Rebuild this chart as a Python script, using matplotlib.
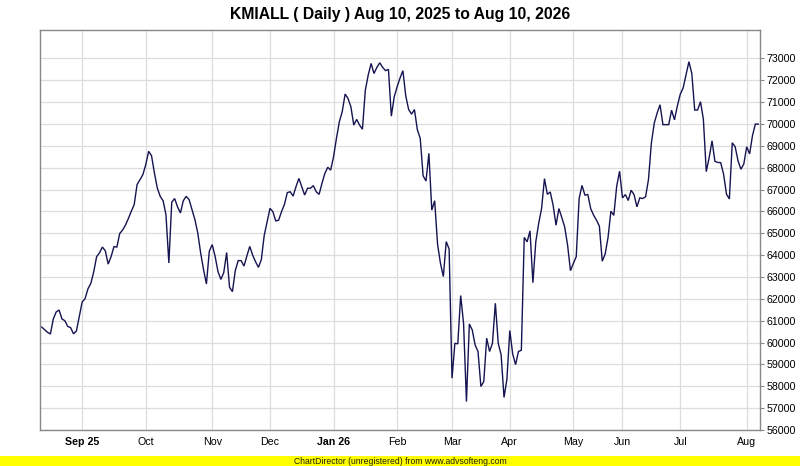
import matplotlib
matplotlib.use("Agg")
import matplotlib.pyplot as plt
import numpy as np

title = "KMIALL ( Daily ) Aug 10, 2025 to Aug 10, 2026"

# closing values, one per trading day
close = [
    60710, 60590, 60470, 60390, 61080, 61400, 61490, 61080, 61000, 60740,
    60680, 60400, 60530, 61200, 61860, 62010, 62460, 62710, 63240, 63930,
    64110, 64370, 64200, 63590, 63930, 64390, 64370, 64990, 65150, 65380,
    65680, 66010, 66310, 67230, 67450, 67680, 68140, 68750, 68550, 67760,
    67070, 66690, 66490, 65850, 63640, 66420, 66590, 66210, 65930, 66490,
    66690, 66540, 66080, 65630, 65020, 64100, 63340, 62680, 64180, 64480,
    63950, 63250, 62890, 63200, 64120, 62530, 62330, 63300, 63750, 63750,
    63500, 63960, 64400, 64000, 63700, 63440, 63790, 64900, 65530, 66140,
    65990, 65560, 65600, 65990, 66320, 66860, 66900, 66700, 67130, 67510,
    67130, 66750, 67060, 67060, 67180, 66900, 66780, 67290, 67740, 68020,
    67890, 68500, 69340, 70100, 70560, 71370, 71170, 70790, 69950, 70210,
    69950, 69760, 71550, 72240, 72770, 72310, 72590, 72800, 72590, 72440,
    72500, 70360, 71240, 71700, 72100, 72440, 71280, 70660, 70450, 70660,
    69740, 69340, 67630, 67390, 68660, 66060, 66490, 64500, 63630, 63020,
    64620, 64280, 58370, 59970, 59940, 62150, 60880, 57300, 60850, 60580,
    59890, 59590, 57990, 58220, 60200, 59590, 59970, 61800, 59970, 59440,
    57490, 58320, 60550, 59480, 58990, 59590, 59650, 64810, 64610, 65110,
    62740, 64610, 65450, 66130, 67500, 66780, 66890, 66280, 65370, 66130,
    65720, 65290, 64460, 63290, 63620, 63930, 66590, 67190, 66740, 66780,
    66130, 65830, 65600, 65330, 63720, 64050, 64800, 66010, 65820, 67150,
    67840, 66620, 66770, 66500, 66970, 66770, 66210, 66620, 66590, 66670,
    67460, 69130, 70040, 70500, 70880, 69970, 69970, 69970, 70630, 70190,
    70830, 71360, 71650, 72250, 72850, 72310, 70640, 70640, 71020, 70220,
    67820, 68460, 69230, 68290, 68240, 68230, 67700, 66790, 66570, 69140,
    68960, 68310, 67930, 68170, 68960, 68630, 69470, 70000, 69990,
]

# month boundaries (trading-day index) and labels
month_idx = [14, 36, 59, 79, 101, 123, 142, 162, 184, 201, 221, 244]
month_labels = ["Sep 25", "Oct", "Nov", "Dec", "Jan 26", "Feb", "Mar", "Apr",
                "May", "Jun", "Jul", "Aug"]
bold_labels = {"Sep 25", "Jan 26"}

y_ticks = list(range(56000, 74000, 1000))

plt.rcParams['font.family'] = ['Liberation Sans', 'DejaVu Sans']

fig = plt.figure(figsize=(8.0, 4.66), dpi=100)
ax = fig.add_axes([40/800, 1 - 430/466, 720/800, 400/466])

x = np.arange(len(close))
ax.plot(x, close, color='#141450', lw=1.0, solid_joinstyle='miter')

ax.set_xlim(-0.6, 248.6)
ax.set_ylim(56000, 74300)

ax.set_xticks(month_idx)
ax.set_xticklabels(month_labels)
for lbl in ax.get_xticklabels():
    if lbl.get_text() in bold_labels:
        lbl.set_fontweight('bold')
ax.set_yticks(y_ticks)
ax.set_yticklabels([str(v) for v in y_ticks])

ax.yaxis.tick_right()
ax.tick_params(axis='y', direction='out', length=3, width=0.8, color='#888888',
               labelsize=7.7, pad=2, labelcolor='#000000')
ax.tick_params(axis='x', direction='out', length=0, labelsize=7.7, pad=5,
               labelcolor='#000000')

ax.grid(True, color='#dddddd', lw=0.9)
ax.set_axisbelow(True)
for s in ax.spines.values():
    s.set_color('#888888')
    s.set_linewidth(1.0)

fig.text(0.5, 1 - 14/466, title, ha='center', va='center',
         fontsize=11.3, fontweight='bold')

# bottom banner
fig.patches.append(plt.Rectangle((0, 0), 1, 10/466, transform=fig.transFigure,
                                 facecolor='#ffff00', edgecolor='none', zorder=0))
fig.text(0.5, 5/466, "ChartDirector (unregistered) from www.advsofteng.com",
         ha='center', va='center', fontsize=6.2, color='#202000')

fig.savefig('out.png', dpi=100)
